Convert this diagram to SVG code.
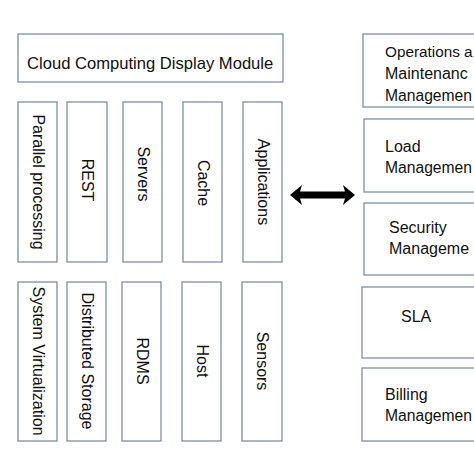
<svg xmlns="http://www.w3.org/2000/svg" width="474" height="474" viewBox="0 0 474 474">
<style>
.box{fill:#ffffff;stroke:#7f8ea3;stroke-width:1.3}
.t{font-family:"Liberation Sans",Arial,sans-serif;font-size:16px;fill:#111111}
.v{text-anchor:middle}
</style>
<rect x="0" y="0" width="474" height="474" fill="#ffffff"/>
<g id="display-module">
<rect class="box" x="18" y="34" width="265" height="48"/>
<text class="t" x="27" y="69" style="font-size:16.6px">Cloud Computing Display Module</text>
</g>
<g id="parallel-processing"><rect class="box" x="18" y="102" width="39" height="160"/><text class="t v" transform="translate(37.5,182) rotate(90)" x="0" y="5">Parallel processing</text></g>
<g id="rest"><rect class="box" x="67" y="102" width="40" height="160"/><text class="t v" transform="translate(87,180) rotate(90)" x="0" y="5">REST</text></g>
<g id="servers"><rect class="box" x="123" y="102" width="39" height="160"/><text class="t v" transform="translate(142.5,174) rotate(90)" x="0" y="5">Servers</text></g>
<g id="cache"><rect class="box" x="183" y="102" width="39" height="160"/><text class="t v" transform="translate(202.5,183) rotate(90)" x="0" y="5">Cache</text></g>
<g id="applications"><rect class="box" x="243" y="102" width="39" height="160"/><text class="t v" transform="translate(262.5,182) rotate(90)" x="0" y="5">Applications</text></g>
<g id="system-virtualization"><rect class="box" x="18" y="282" width="39" height="159"/><text class="t v" transform="translate(37.5,361) rotate(90)" x="0" y="5">System Virtualization</text></g>
<g id="distributed-storage"><rect class="box" x="67" y="282" width="39" height="159"/><text class="t v" transform="translate(86.5,361) rotate(90)" x="0" y="5">Distributed Storage</text></g>
<g id="rdms"><rect class="box" x="122" y="282" width="39" height="159"/><text class="t v" transform="translate(141.5,361) rotate(90)" x="0" y="5">RDMS</text></g>
<g id="host"><rect class="box" x="182" y="282" width="39" height="159"/><text class="t v" transform="translate(201.5,361) rotate(90)" x="0" y="5">Host</text></g>
<g id="sensors"><rect class="box" x="242" y="282" width="40" height="159"/><text class="t v" transform="translate(262,361) rotate(90)" x="0" y="5">Sensors</text></g>
<g id="ops-maintenance"><rect class="box" x="363" y="34" width="130" height="73"/>
<text class="t" x="385" y="57" style="font-size:15.3px">Operations a</text><text class="t" x="385" y="79">Maintenanc</text><text class="t" x="385" y="101" textLength="87" lengthAdjust="spacingAndGlyphs">Managemen</text></g>
<g id="load-management"><rect class="box" x="364" y="119" width="130" height="73"/>
<text class="t" x="385" y="152">Load</text><text class="t" x="385" y="173" textLength="87" lengthAdjust="spacingAndGlyphs">Managemen</text></g>
<g id="security-management"><rect class="box" x="364" y="203" width="130" height="72"/>
<text class="t" x="389" y="233">Security</text><text class="t" x="389" y="254">Manageme</text></g>
<g id="sla"><rect class="box" x="362" y="287" width="130" height="71"/>
<text class="t" x="401" y="322">SLA</text></g>
<g id="billing-management"><rect class="box" x="362" y="368" width="130" height="73"/>
<text class="t" x="385" y="400">Billing</text><text class="t" x="385" y="421" textLength="87" lengthAdjust="spacingAndGlyphs">Managemen</text></g>
<g id="connectors">
<polygon fill="#000000" points="290,195 302,185 300,191.5 345,191.5 343,185 355,195 343,205 345,198.5 300,198.5 302,205"/>
</g>
</svg>
